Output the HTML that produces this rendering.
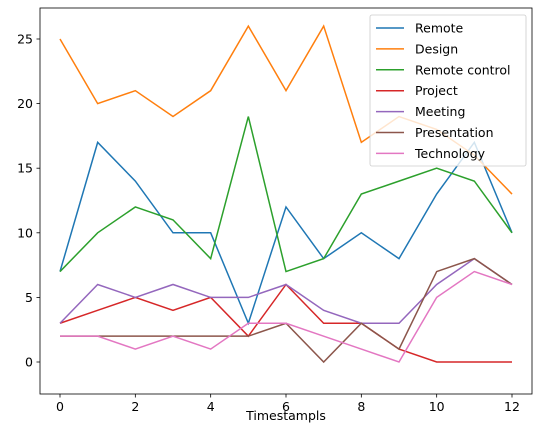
<!DOCTYPE html>
<html><head><meta charset="utf-8"><style>
body{margin:0;background:#fff;font-family:"DejaVu Sans","Liberation Sans",sans-serif}
</style></head><body>
<svg id="chart" width="543" height="432" xmlns="http://www.w3.org/2000/svg" font-family="DejaVu Sans, Liberation Sans, sans-serif"></svg>
<script>
const xCategories=[0,1,2,3,4,5,6,7,8,9,10,11,12];
const seriesNames=["Remote","Design","Remote control","Project","Meeting","Presentation","Technology"];
const remote=[7,17,14,10,10,3,12,8,10,8,13,17,10];
const design=[25,20,21,19,21,26,21,26,17,19,18,16,13];
const remoteControl=[7,10,12,11,8,19,7,8,13,14,15,14,10];
const project=[3,4,5,4,5,2,6,3,3,1,0,0,0];
const meeting=[3,6,5,6,5,5,6,4,3,3,6,8,6];
const presentation=[2,2,2,2,2,2,3,0,3,1,7,8,6];
const technology=[2,2,1,2,1,3,3,2,1,0,5,7,6];
const xTicks=[0,2,4,6,8,10,12];
const yTicks=[0,5,10,15,20,25];
const colors=["#1f77b4","#ff7f0e","#2ca02c","#d62728","#9467bd","#8c564b","#e377c2"];
const allSeries=[remote,design,remoteControl,project,meeting,presentation,technology];
const svg=document.getElementById('chart');
const NS='http://www.w3.org/2000/svg';
const L=40,R=532,T=8,B=394;
const xs=v=>60+(v-0)*(512-60)/12;
const ys=v=>362-v*(362-39)/25;
function mk(t,a,p){const e=document.createElementNS(NS,t);for(const k in a)e.setAttribute(k,a[k]);(p||svg).appendChild(e);return e;}
seriesNames.forEach((n,i)=>{
  const pts=allSeries[i].map((v,j)=>xs(xCategories[j])+','+ys(v)).join(' ');
  const pl=mk('polyline',{points:pts,fill:'none',stroke:colors[i],'stroke-width':1.5});
  
  
});
const frame=mk('rect',{x:L,y:T,width:R-L,height:B-T,fill:'none',stroke:'#000','stroke-width':0.8});


xTicks.forEach(v=>{
  mk('line',{x1:xs(v),x2:xs(v),y1:B,y2:B+3.5,stroke:'#000','stroke-width':0.8});
  const t=mk('text',{x:xs(v),y:B+17,'text-anchor':'middle','font-size':12.5,fill:'#000'});t.textContent=v;
  
  
});
yTicks.forEach(v=>{
  mk('line',{x1:L-3.5,x2:L,y1:ys(v),y2:ys(v),stroke:'#000','stroke-width':0.8});
  const t=mk('text',{x:L-7,y:ys(v)+4.5,'text-anchor':'end','font-size':12.5,fill:'#000'});t.textContent=v;
  
  
});
const xt=mk('text',{x:286,y:420,'text-anchor':'middle','font-size':12.5,fill:'#000'});xt.textContent='Timestampls';


const lg=mk('g',{});


mk('rect',{x:370,y:15,width:156,height:151,rx:2,fill:'#fff','fill-opacity':0.8,stroke:'#ccc','stroke-width':0.8},lg);
seriesNames.forEach((n,i)=>{
  const y=28+i*20.9;
  mk('line',{x1:376,x2:404,y1:y,y2:y,stroke:colors[i],'stroke-width':1.5},lg);
  const t=mk('text',{x:415,y:y+4.5,'font-size':12.5,fill:'#000'},lg);t.textContent=n;
  
  
});
</script>
</body></html>
